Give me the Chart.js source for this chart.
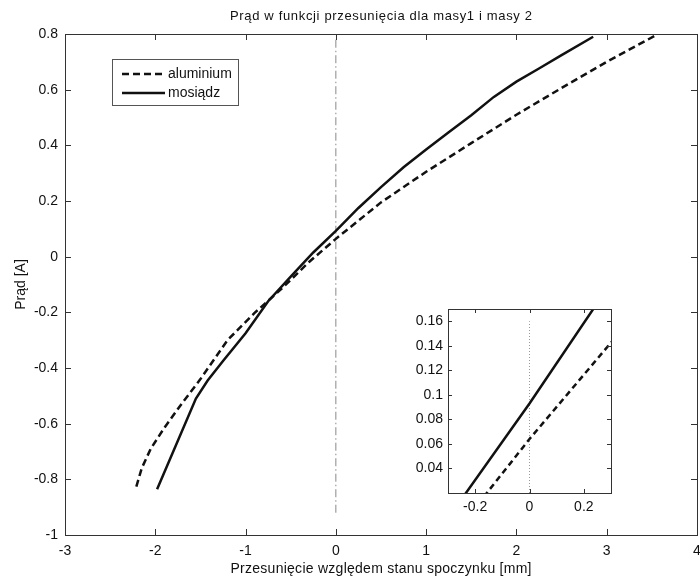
<!DOCTYPE html>
<html>
<head>
<meta charset="utf-8">
<script src="https://cdn.jsdelivr.net/npm/chart.js@4.4.1/dist/chart.umd.min.js"></script>
<style>
  html, body { margin: 0; padding: 0; background: #fff; }
  #wrap { position: relative; width: 700px; height: 579px; }
  #mainChart { position: absolute; left: 0; top: 0; }
  #insetChart { position: absolute; left: 410px; top: 300px; }
</style>
</head>
<body>
<div id="wrap">
  <canvas id="mainChart" width="700" height="579"></canvas>
  <canvas id="insetChart" width="210" height="225"></canvas>
</div>
<script>
// Values
const aluX = [-2.21, -2.15, -2.05, -1.9, -1.7, -1.5, -1.2, -0.9, -0.6, -0.3, 0, 0.5, 1.0, 1.5, 2.0, 2.5, 3.0, 3.53];
const aluY = [-0.826, -0.76, -0.69, -0.615, -0.525, -0.44, -0.30, -0.202, -0.115, -0.02, 0.064, 0.195, 0.305, 0.408, 0.51, 0.606, 0.70, 0.793];

const mosX = [-1.98, -1.55, -1.42, -1.25, -1.0, -0.75, -0.5, -0.25, 0, 0.25, 0.5, 0.75, 1.0, 1.25, 1.5, 1.75, 2.0, 2.25, 2.5, 2.85];
const mosY = [-0.836, -0.51, -0.445, -0.375, -0.275, -0.16, -0.072, 0.015, 0.093, 0.175, 0.25, 0.321, 0.385, 0.447, 0.508, 0.574, 0.629, 0.676, 0.724, 0.79];

// vertical reference lines at x = 0
const zeroLineY = [-0.92, 0.78];
const insetZeroLineY = [0.02, 0.16];

// tick labels
const xTicks = [-3, -2, -1, 0, 1, 2, 3, 4];
const yTicks = [-1, -0.8, -0.6, -0.4, -0.2, 0, 0.2, 0.4, 0.6, 0.8];
const insetXTicks = [-0.2, 0, 0.2];
const insetYTicks = [0.04, 0.06, 0.08, 0.1, 0.12, 0.14, 0.16];

const labels = ['aluminium', 'mosiądz'];
const titleText = 'Prąd w funkcji przesunięcia dla masy1 i masy 2';
const xTitle = 'Przesunięcie względem stanu spoczynku [mm]';
const yTitle = 'Prąd [A]';

const FONT = "'Liberation Sans', Arial, sans-serif";
const toPts = (xs, ys) => xs.map((x, i) => ({ x: x, y: ys[i] }));

// box round the plot area with inward ticks on every side (MATLAB look)
const frameTicks = (len) => ({
    id: 'frameTicks',
    afterDatasetsDraw(chart) {
        const { ctx, chartArea: a, scales: { x, y } } = chart;
        ctx.save();
        ctx.strokeStyle = '#333';
        ctx.lineWidth = 1;
        ctx.setLineDash([]);
        ctx.beginPath();
        x.ticks.forEach(t => {
            const px = Math.round(x.getPixelForValue(t.value)) + 0.5;
            ctx.moveTo(px, a.bottom); ctx.lineTo(px, a.bottom - len);
            ctx.moveTo(px, a.top); ctx.lineTo(px, a.top + len);
        });
        y.ticks.forEach(t => {
            const py = Math.round(y.getPixelForValue(t.value)) + 0.5;
            ctx.moveTo(a.left, py); ctx.lineTo(a.left + len, py);
            ctx.moveTo(a.right, py); ctx.lineTo(a.right - len, py);
        });
        ctx.stroke();
        ctx.strokeRect(Math.round(a.left) + 0.5, Math.round(a.top) + 0.5,
            Math.round(a.right - a.left), Math.round(a.bottom - a.top));
        ctx.restore();
    }
});

const whiteArea = {
    id: 'whiteArea',
    beforeDraw(chart) {
        const { ctx, chartArea: a } = chart;
        ctx.save();
        ctx.fillStyle = '#fff';
        ctx.fillRect(a.left, a.top, a.right - a.left, a.bottom - a.top);
        ctx.restore();
    }
};

// text spread out to a given width (the reference text is set wide)
const wideText = (ctx, text, cx, baseline, size, targetW) => {
    ctx.font = size + 'px ' + FONT;
    const w = ctx.measureText(text).width;
    const n = [...text].length;
    ctx.letterSpacing = Math.max(0, (targetW - w) / (n - 1)) + 'px';
    ctx.textAlign = 'left';
    ctx.textBaseline = 'alphabetic';
    ctx.fillText(text, cx - targetW / 2, baseline);
    ctx.letterSpacing = '0px';
};

// chart title and x-axis title, both centred on the plot area
const titles = {
    id: 'titles',
    afterDraw(chart) {
        const { ctx, chartArea: a } = chart;
        const cx = (a.left + a.right) / 2;
        ctx.save();
        ctx.fillStyle = '#111';
        wideText(ctx, titleText, cx, 20, 13, 302);
        wideText(ctx, xTitle, cx, 573, 14, 301);
        ctx.restore();
    }
};

// legend box in the upper left corner
const boxLegend = {
    id: 'boxLegend',
    afterDraw(chart) {
        const ctx = chart.ctx;
        const rows = [chart.data.datasets[0], chart.data.datasets[1]];
        ctx.save();
        ctx.fillStyle = '#fff';
        ctx.fillRect(112.5, 59.5, 126, 46);
        ctx.strokeStyle = '#555';
        ctx.lineWidth = 1;
        ctx.strokeRect(112.5, 59.5, 126, 46);
        rows.forEach((ds, i) => {
            const yy = 74 + i * 19;
            ctx.beginPath();
            ctx.strokeStyle = ds.borderColor;
            ctx.lineWidth = ds.borderWidth;
            ctx.setLineDash(ds.borderDash || []);
            ctx.moveTo(122, yy);
            ctx.lineTo(165, yy);
            ctx.stroke();
            ctx.setLineDash([]);
            ctx.fillStyle = '#111';
            ctx.font = '14px ' + FONT;
            ctx.textBaseline = 'middle';
            ctx.fillText(ds.label, 168, yy);
        });
        ctx.restore();
    }
};

const setTicks = (list) => (scale) => { scale.ticks = list.map(v => ({ value: v })); };
const fixX = (h) => (s) => { s.height = h; s.paddingLeft = 0; s.paddingRight = 0; };
const fixY = (w) => (s) => { s.width = w; s.paddingTop = 0; s.paddingBottom = 0; };

const lineSets = (dash, lw) => [
    {
        label: labels[0],
        data: toPts(aluX, aluY),
        borderColor: '#111',
        borderWidth: lw,
        borderDash: dash,
        pointRadius: 0,
        clip: 0
    },
    {
        label: labels[1],
        data: toPts(mosX, mosY),
        borderColor: '#111',
        borderWidth: lw,
        pointRadius: 0,
        clip: 0
    }
];

const tickFont = { family: FONT, size: 14 };

new Chart(document.getElementById('mainChart'), {
    type: 'line',
    data: {
        datasets: [
            ...lineSets([7, 4], 2.5),
            {
                label: 'zero',
                data: toPts([0, 0], zeroLineY),
                borderColor: '#888',
                borderWidth: 1,
                borderDash: [8, 3, 1.5, 3],
                pointRadius: 0
            }
        ]
    },
    options: {
        responsive: false,
        animation: false,
        devicePixelRatio: 1,
        layout: { padding: { left: 0, right: 3, top: 34, bottom: 0 } },
        elements: { line: { tension: 0 } },
        plugins: {
            legend: { display: false },
            tooltip: { enabled: false },
            title: { display: false }
        },
        scales: {
            x: {
                type: 'linear',
                min: -3,
                max: 4,
                afterBuildTicks: setTicks(xTicks),
                afterFit: fixX(44),
                grid: { display: false, drawTicks: false },
                border: { display: false },
                ticks: { color: '#111', font: tickFont, padding: 8, maxRotation: 0, callback: v => String(v) }
            },
            y: {
                type: 'linear',
                min: -1,
                max: 0.8,
                afterBuildTicks: setTicks(yTicks),
                afterFit: fixY(65),
                grid: { display: false, drawTicks: false },
                border: { display: false },
                ticks: { color: '#111', font: tickFont, padding: 7, callback: v => String(v) },
                title: { display: true, text: yTitle, color: '#111', font: { family: FONT, size: 14 }, padding: { top: 13, bottom: 0 } }
            }
        }
    },
    plugins: [frameTicks(6), boxLegend, titles]
});

new Chart(document.getElementById('insetChart'), {
    type: 'line',
    data: {
        datasets: [
            ...lineSets([6, 4], 2.5),
            {
                label: 'zero',
                data: toPts([0, 0], insetZeroLineY),
                borderColor: '#999',
                borderWidth: 1,
                borderDash: [1, 2],
                pointRadius: 0
            }
        ]
    },
    options: {
        responsive: false,
        animation: false,
        devicePixelRatio: 1,
        layout: { padding: { left: 0, right: 9, top: 9, bottom: 0 } },
        elements: { line: { tension: 0 } },
        plugins: {
            legend: { display: false },
            tooltip: { enabled: false },
            title: { display: false }
        },
        scales: {
            x: {
                type: 'linear',
                min: -0.3,
                max: 0.3,
                afterBuildTicks: setTicks(insetXTicks),
                afterFit: fixX(32),
                grid: { display: false, drawTicks: false },
                border: { display: false },
                ticks: { color: '#111', font: tickFont, padding: 6, maxRotation: 0, callback: v => String(v) }
            },
            y: {
                type: 'linear',
                min: 0.02,
                max: 0.17,
                afterBuildTicks: setTicks(insetYTicks),
                afterFit: fixY(38),
                grid: { display: false, drawTicks: false },
                border: { display: false },
                ticks: { color: '#111', font: tickFont, padding: 5, callback: v => String(v) }
            }
        }
    },
    plugins: [whiteArea, frameTicks(4)]
});
</script>
</body>
</html>
